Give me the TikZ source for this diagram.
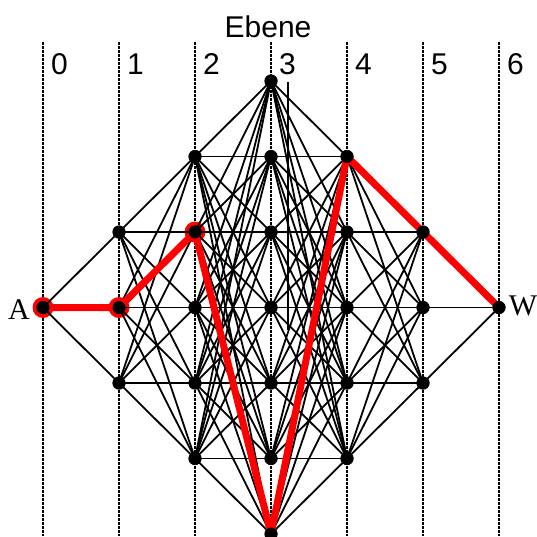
\documentclass[tikz,border=0pt]{standalone}
\usepackage{fontspec}
\setmainfont{Liberation Serif}
\setsansfont{Liberation Sans}
\begin{document}
\begin{tikzpicture}[
      x=1pt, y=-1pt,
      dot/.style={circle, fill=black, inner sep=0pt, minimum size=13pt},
      halo/.style={circle, fill=red, inner sep=0pt, minimum size=21pt},
      link/.style={line width=1.8pt},
      redpath/.style={draw=red, line width=7pt, line cap=round, line join=round},
      ebene/.style={line width=1.5pt, dash pattern=on 3pt off 1pt},
      lbl/.style={font=\sffamily\fontsize{30pt}{36pt}\selectfont, inner sep=0pt},
      endlbl/.style={font=\rmfamily\fontsize{30pt}{34pt}\selectfont, inner sep=0pt},
    ]
      \useasboundingbox (0,0) rectangle (537,536);

      % levels
      \node[lbl] (title) at (268,27) {Ebene};
      \foreach \i in {0,...,6} {
        \draw[ebene] ({43+76*\i},42) -- ({43+76*\i},536);
        \node[lbl, anchor=west] (z\i) at ({51+76*\i},64) {\i};
      }

      % red marks under the dots
      \node[halo] at (43,307.5) {};
      \node[halo] at (119,307.5) {};
      \node[halo] at (195,232) {};

      % nodes
      \foreach \i/\a/\b in {0/3/3, 1/2/4, 2/1/5, 3/0/6, 4/1/5, 5/2/4, 6/3/3}
        \foreach \j in {\a,...,\b}
          \node[dot] (p\i\j) at ({43+76*\i},{81+75.5*\j}) {};

      \node[endlbl] (a) at (19,310) {A};
      \node[endlbl] (w) at (523,306) {W};

      % edges between neighbouring levels
      \foreach \i/\a/\b/\c/\d [evaluate=\i as \n using int(\i+1)] in
          {0/3/3/2/4, 1/2/4/1/5, 2/1/5/0/6, 3/0/6/1/5, 4/1/5/2/4, 5/2/4/3/3}
        \foreach \j in {\a,...,\b}
          \foreach \k in {\c,...,\d}
            \draw[link] (p\i\j.center) -- (p\n\k.center);
      \draw[link] (288,82) -- (288,330);

      % path
      \draw[redpath] (p03.center) -- (p13.center) -- (p22.center) -- (p36.center)
        -- (p41.center) -- (p52.center) -- (p63.center);

      % dots on top
      \foreach \i/\a/\b in {0/3/3, 1/2/4, 2/1/5, 3/0/6, 4/1/5, 5/2/4, 6/3/3}
        \foreach \j in {\a,...,\b}
          \fill (p\i\j) circle (6.5pt);
      \fill (p63) circle (5pt);

    \end{tikzpicture}
\end{document}
